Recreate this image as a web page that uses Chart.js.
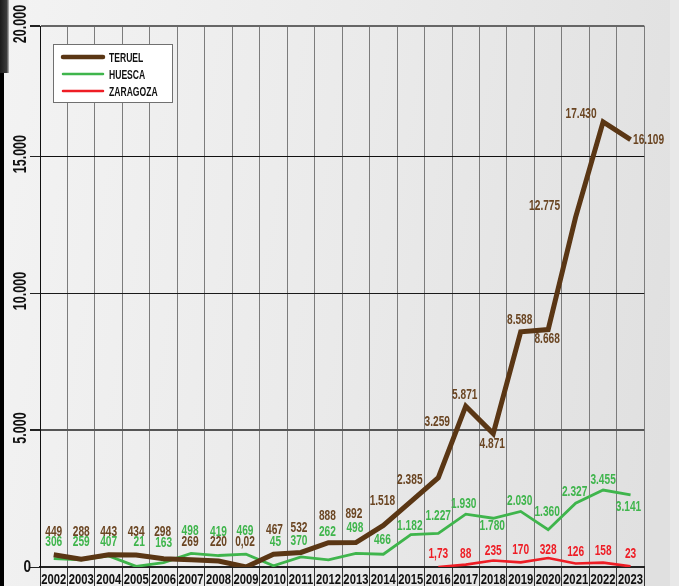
<!DOCTYPE html>
<html>
<head>
<meta charset="utf-8">
<script src="https://cdn.jsdelivr.net/npm/chart.js@4.4.0/dist/chart.umd.min.js"></script>
<style>
    html, body { margin: 0; padding: 0; }
    body {
        width: 679px; height: 586px; overflow: hidden; position: relative;
        background: linear-gradient(100deg, #f3f3f3 0%, #eaeaea 50%, #e0e0e0 95%);
    }
    #edge { position: absolute; left: 0; top: 0; width: 4px; height: 586px; background: #000; }
    #edge-top { position: absolute; left: 0; top: 0; width: 9px; height: 73px; background: linear-gradient(to right, #1c1c1c, #3c3c3c 75%, rgba(70,70,70,0.3)); }
    #right-strip { position: absolute; left: 670px; top: 0; width: 9px; height: 586px; background: #e8e8e8; }
    #chart { position: absolute; left: 0; top: 0; }
</style>
</head>
<body>
<div id="edge"></div>
<div id="edge-top"></div>
<div id="right-strip"></div>
<canvas id="chart" width="679" height="586"></canvas>
<script>
// --- Datos ---
const years = ['2002', '2003', '2004', '2005', '2006', '2007', '2008', '2009', '2010', '2011', '2012',
    '2013', '2014', '2015', '2016', '2017', '2018', '2019', '2020', '2021', '2022', '2023'];

// valores tal como se dibujan las líneas (2022-2023 van por debajo de sus rótulos)
const teruel = [449, 288, 443, 434, 298, 269, 220, 0.02, 467, 532, 888, 892, 1518, 2385, 3259, 5871,
    4871, 8588, 8668, 12775, 16250, 15600];
const huesca = [306, 259, 407, 21, 163, 498, 419, 469, 45, 370, 262, 498, 466, 1182, 1227, 1930,
    1780, 2030, 1360, 2327, 2810, 2630];
const zaragoza = [null, null, null, null, null, null, null, null, null, null, null, null, null, null,
    1.73, 88, 235, 170, 328, 126, 158, 23];

// rótulos impresos junto a cada punto
const teruelText = ['449', '288', '443', '434', '298', '269', '220', '0,02', '467', '532', '888', '892',
    '1.518', '2.385', '3.259', '5.871', '4.871', '8.588', '8.668', '12.775', '17.430', '16.109'];
const huescaText = ['306', '259', '407', '21', '163', '498', '419', '469', '45', '370', '262', '498',
    '466', '1.182', '1.227', '1.930', '1.780', '2.030', '1.360', '2.327', '3.455', '3.141'];
const zaragozaText = [null, null, null, null, null, null, null, null, null, null, null, null, null, null,
    '1,73', '88', '235', '170', '328', '126', '158', '23'];

const yTicks = [0, 5000, 10000, 15000, 19750];
const yTickText = ['0', '5.000', '10.000', '15.000', '20.000'];

// --- Colocación de rótulos (px respecto al punto) ---
const shifts = [
    { dx: [0, 0, 0, 0, -1, -1, 0, -1, 1, -2, -1, -2, -1, -1, -1, -1, -1, -1, -1, -31, -22, 18],
      dy: [-23, -27, -23, -23, -27, -18, -19, -25, -24, -24, -27, -29, -24, -22, -56, -11, 10, -12, 9, -11, -8, 0] },
    { dx: [0, 0, 0, 3, 0, -1, 0, -1, 2, -2, -1, -1, -1, -1, 0, -2, -1, -1, -1, -1, 0, -2],
      dy: [-17, -18, -14, -24, -20, -22, -24, -23, -24, -16, -28, -25, -14, -9, -17, -10, 8, -10, -18, -11, -10, 12] },
    { dx: new Array(22).fill(0),
      dy: [0, 0, 0, 0, 0, 0, 0, 0, 0, 0, 0, 0, 0, 0, -13, -11, -10, -12, -8, -12, -12, -12] }
];
const valueTexts = [teruelText, huescaText, zaragozaText];
const textColors = ['#6a4522', '#3fb54c', '#ee1d25'];

// fuente estrecha: Liberation Sans comprimida en horizontal
const FONT = "'Liberation Sans', Arial, sans-serif";
Chart.defaults.font.family = FONT;

const gridColorsY = ['#222', '#555', '#1a1a1a', '#111', '#666'];
const gridWidthsY = [1, 2, 1, 1, 2];

function narrowText(ctx, txt, x, y, sx, align) {
    ctx.save();
    ctx.translate(x, y);
    ctx.scale(sx, 1);
    ctx.textAlign = align || 'center';
    ctx.fillText(txt, 0, 0);
    ctx.restore();
}

// --- Plugins ---
const valueLabels = {
    id: 'valueLabels',
    afterDatasetsDraw(chart) {
        const ctx = chart.ctx;
        ctx.save();
        ctx.font = 'bold 14.5px ' + FONT;
        ctx.textBaseline = 'middle';
        chart.data.datasets.forEach((ds, di) => {
            const meta = chart.getDatasetMeta(di);
            meta.data.forEach((pt, i) => {
                const txt = valueTexts[di][i];
                if (!txt || ds.data[i] == null) return;
                ctx.fillStyle = textColors[di];
                narrowText(ctx, txt, pt.x + shifts[di].dx[i], pt.y + shifts[di].dy[i], 0.7);
            });
        });
        ctx.restore();
    }
};

const axisLabels = {
    id: 'axisLabels',
    afterDraw(chart) {
        const ctx = chart.ctx;
        const yScale = chart.scales.y;
        const xScale = chart.scales.x;
        const a = chart.chartArea;
        ctx.save();
        ctx.fillStyle = '#111';
        ctx.textBaseline = 'middle';
        // eje Y, rótulos girados
        ctx.font = 'bold 19px ' + FONT;
        yTicks.forEach((v, i) => {
            const py = yScale.getPixelForValue(v);
            if (v === 0) {
                ctx.font = 'bold 17px ' + FONT;
                narrowText(ctx, yTickText[i], a.left - 9, py, 0.8, 'right');
                ctx.font = 'bold 19px ' + FONT;
            } else {
                ctx.save();
                ctx.translate(a.left - 19, py - 2);
                ctx.rotate(-Math.PI / 2);
                narrowText(ctx, yTickText[i], 0, 0, 0.66, 'center');
                ctx.restore();
            }
        });
        // eje X, años
        ctx.font = 'bold 15px ' + FONT;
        years.forEach((y, i) => {
            narrowText(ctx, y, xScale.getPixelForValue(i), a.bottom + 13, 0.75, 'center');
        });
        ctx.restore();
    }
};

const boxLegend = {
    id: 'boxLegend',
    afterDraw(chart) {
        const ctx = chart.ctx;
        const a = chart.chartArea;
        const bx = a.left + 13, by = a.top + 18, bw = 119, bh = 58;
        ctx.save();
        ctx.fillStyle = '#fff';
        ctx.fillRect(bx, by, bw, bh);
        ctx.strokeStyle = '#707070';
        ctx.lineWidth = 1;
        ctx.strokeRect(bx + 0.5, by + 0.5, bw, bh);
        chart.data.datasets.forEach((ds, i) => {
            const ry = by + 13 + i * 17;
            ctx.beginPath();
            ctx.moveTo(bx + 10, ry);
            ctx.lineTo(bx + 50, ry);
            ctx.strokeStyle = ds.borderColor;
            ctx.lineWidth = i === 0 ? 4.5 : 2.5;
            ctx.lineCap = 'round';
            ctx.stroke();
            ctx.fillStyle = '#111';
            ctx.font = 'bold 13px ' + FONT;
            ctx.textBaseline = 'middle';
            narrowText(ctx, ds.label, bx + 56, ry + 1, 0.66, 'left');
        });
        ctx.restore();
    }
};

// --- Gráfico ---
new Chart(document.getElementById('chart'), {
    type: 'line',
    data: {
        labels: years,
        datasets: [
            { label: 'TERUEL', data: teruel, borderColor: '#5a3614', borderWidth: 5 },
            { label: 'HUESCA', data: huesca, borderColor: '#3fb54c', borderWidth: 2.8 },
            { label: 'ZARAGOZA', data: zaragoza, borderColor: '#ee1d25', borderWidth: 2.6 }
        ]
    },
    options: {
        responsive: false,
        animation: false,
        layout: { padding: { left: 30, right: 34.7, top: 26, bottom: 0 } },
        elements: {
            point: { radius: 0 },
            line: { tension: 0, fill: false, borderJoinStyle: 'miter', borderCapStyle: 'butt' }
        },
        plugins: { legend: { display: false }, tooltip: { enabled: false } },
        scales: {
            x: {
                offset: true,
                grid: { offset: true, color: '#7c7c7c', lineWidth: 1, tickColor: '#333', tickLength: 19 },
                border: { color: '#222', width: 2 },
                ticks: { display: false }
            },
            y: {
                min: 0,
                max: 19750,
                afterBuildTicks: (axis) => { axis.ticks = yTicks.map(v => ({ value: v })); },
                grid: {
                    color: (c) => gridColorsY[c.index],
                    lineWidth: (c) => gridWidthsY[c.index],
                    tickColor: '#222',
                    tickLength: 10
                },
                border: { color: '#111', width: 1 },
                ticks: { display: false }
            }
        }
    },
    plugins: [valueLabels, axisLabels, boxLegend]
});
</script>
</body>
</html>
